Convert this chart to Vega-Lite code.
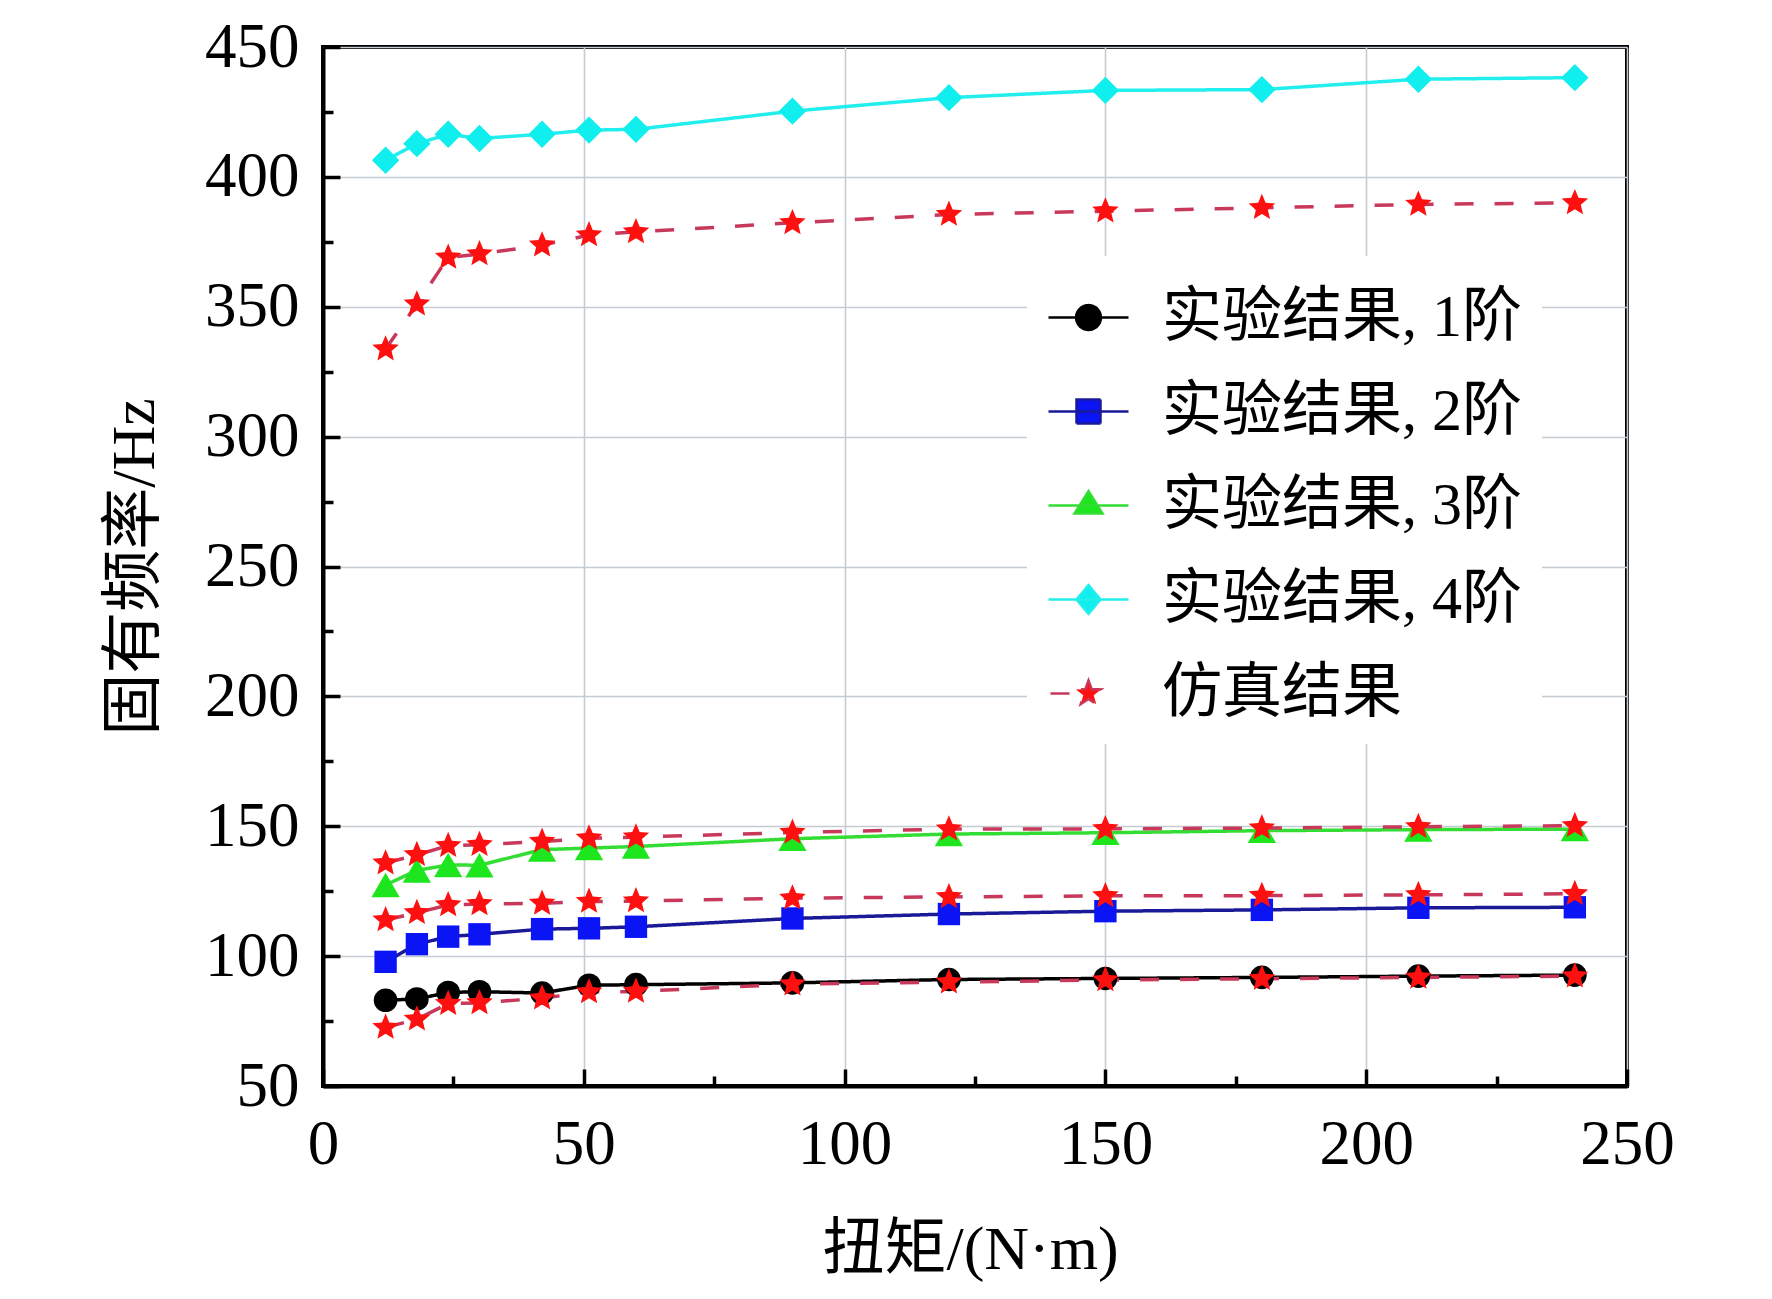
{
  "$schema": "https://vega.github.io/schema/vega-lite/v6.json",
  "autosize": "none",
  "padding": {"left": 323, "top": 47, "right": 145, "bottom": 213},
  "width": 1304,
  "height": 1039,
  "background": "white",
  "config": {
    "view": {"stroke": "black", "strokeWidth": 4},
    "font": "Liberation Serif, Noto Sans CJK SC",
    "axis": {
      "domainColor": "black",
      "domainWidth": 4,
      "tickColor": "black",
      "tickWidth": 3.5,
      "gridColor": "#c5cbd3",
      "gridWidth": 1.6,
      "labelFont": "Liberation Serif",
      "labelFontSize": 63,
      "labelColor": "black",
      "titleFont": "Liberation Serif, Noto Sans CJK SC",
      "titleFontSize": 62,
      "titleFontWeight": "normal",
      "titleColor": "black"
    }
  },
  "data": {
    "values": [
      {"x": 12, "y": 83, "s": "实验结果, 1阶", "g": "e1"},
      {"x": 18, "y": 83.5, "s": "实验结果, 1阶", "g": "e1"},
      {"x": 24, "y": 86, "s": "实验结果, 1阶", "g": "e1"},
      {"x": 30, "y": 86.3, "s": "实验结果, 1阶", "g": "e1"},
      {"x": 42, "y": 85.8, "s": "实验结果, 1阶", "g": "e1"},
      {"x": 51, "y": 88.8, "s": "实验结果, 1阶", "g": "e1"},
      {"x": 60, "y": 89, "s": "实验结果, 1阶", "g": "e1"},
      {"x": 90, "y": 89.7, "s": "实验结果, 1阶", "g": "e1"},
      {"x": 120, "y": 91, "s": "实验结果, 1阶", "g": "e1"},
      {"x": 150, "y": 91.4, "s": "实验结果, 1阶", "g": "e1"},
      {"x": 180, "y": 91.8, "s": "实验结果, 1阶", "g": "e1"},
      {"x": 210, "y": 92.3, "s": "实验结果, 1阶", "g": "e1"},
      {"x": 240, "y": 92.7, "s": "实验结果, 1阶", "g": "e1"},
      {"x": 12, "y": 97.8, "s": "实验结果, 2阶", "g": "e2"},
      {"x": 18, "y": 104.6, "s": "实验结果, 2阶", "g": "e2"},
      {"x": 24, "y": 107.5, "s": "实验结果, 2阶", "g": "e2"},
      {"x": 30, "y": 108.4, "s": "实验结果, 2阶", "g": "e2"},
      {"x": 42, "y": 110.4, "s": "实验结果, 2阶", "g": "e2"},
      {"x": 51, "y": 110.7, "s": "实验结果, 2阶", "g": "e2"},
      {"x": 60, "y": 111.3, "s": "实验结果, 2阶", "g": "e2"},
      {"x": 90, "y": 114.5, "s": "实验结果, 2阶", "g": "e2"},
      {"x": 120, "y": 116.2, "s": "实验结果, 2阶", "g": "e2"},
      {"x": 150, "y": 117.3, "s": "实验结果, 2阶", "g": "e2"},
      {"x": 180, "y": 117.8, "s": "实验结果, 2阶", "g": "e2"},
      {"x": 210, "y": 118.6, "s": "实验结果, 2阶", "g": "e2"},
      {"x": 240, "y": 118.8, "s": "实验结果, 2阶", "g": "e2"},
      {"x": 12, "y": 127.4, "s": "实验结果, 3阶", "g": "e3"},
      {"x": 18, "y": 133, "s": "实验结果, 3阶", "g": "e3"},
      {"x": 24, "y": 135.1, "s": "实验结果, 3阶", "g": "e3"},
      {"x": 30, "y": 135, "s": "实验结果, 3阶", "g": "e3"},
      {"x": 42, "y": 141, "s": "实验结果, 3阶", "g": "e3"},
      {"x": 51, "y": 141.6, "s": "实验结果, 3阶", "g": "e3"},
      {"x": 60, "y": 142.2, "s": "实验结果, 3阶", "g": "e3"},
      {"x": 90, "y": 145.2, "s": "实验结果, 3阶", "g": "e3"},
      {"x": 120, "y": 147, "s": "实验结果, 3阶", "g": "e3"},
      {"x": 150, "y": 147.5, "s": "实验结果, 3阶", "g": "e3"},
      {"x": 180, "y": 148.3, "s": "实验结果, 3阶", "g": "e3"},
      {"x": 210, "y": 148.7, "s": "实验结果, 3阶", "g": "e3"},
      {"x": 240, "y": 148.9, "s": "实验结果, 3阶", "g": "e3"},
      {"x": 12, "y": 406.4, "s": "实验结果, 4阶", "g": "e4"},
      {"x": 18, "y": 412.8, "s": "实验结果, 4阶", "g": "e4"},
      {"x": 24, "y": 416.4, "s": "实验结果, 4阶", "g": "e4"},
      {"x": 30, "y": 414.8, "s": "实验结果, 4阶", "g": "e4"},
      {"x": 42, "y": 416.4, "s": "实验结果, 4阶", "g": "e4"},
      {"x": 51, "y": 418, "s": "实验结果, 4阶", "g": "e4"},
      {"x": 60, "y": 418.3, "s": "实验结果, 4阶", "g": "e4"},
      {"x": 90, "y": 425.3, "s": "实验结果, 4阶", "g": "e4"},
      {"x": 120, "y": 430.5, "s": "实验结果, 4阶", "g": "e4"},
      {"x": 150, "y": 433.3, "s": "实验结果, 4阶", "g": "e4"},
      {"x": 180, "y": 433.6, "s": "实验结果, 4阶", "g": "e4"},
      {"x": 210, "y": 437.6, "s": "实验结果, 4阶", "g": "e4"},
      {"x": 240, "y": 438.2, "s": "实验结果, 4阶", "g": "e4"},
      {"x": 12, "y": 72.5, "s": "仿真结果", "g": "s1"},
      {"x": 18, "y": 75.7, "s": "仿真结果", "g": "s1"},
      {"x": 24, "y": 81.7, "s": "仿真结果", "g": "s1"},
      {"x": 30, "y": 82, "s": "仿真结果", "g": "s1"},
      {"x": 42, "y": 83.8, "s": "仿真结果", "g": "s1"},
      {"x": 51, "y": 86.2, "s": "仿真结果", "g": "s1"},
      {"x": 60, "y": 86.4, "s": "仿真结果", "g": "s1"},
      {"x": 90, "y": 89.2, "s": "仿真结果", "g": "s1"},
      {"x": 120, "y": 90, "s": "仿真结果", "g": "s1"},
      {"x": 150, "y": 90.8, "s": "仿真结果", "g": "s1"},
      {"x": 180, "y": 91.3, "s": "仿真结果", "g": "s1"},
      {"x": 210, "y": 91.8, "s": "仿真结果", "g": "s1"},
      {"x": 240, "y": 92.3, "s": "仿真结果", "g": "s1"},
      {"x": 12, "y": 113.9, "s": "仿真结果", "g": "s2"},
      {"x": 18, "y": 116.7, "s": "仿真结果", "g": "s2"},
      {"x": 24, "y": 119.7, "s": "仿真结果", "g": "s2"},
      {"x": 30, "y": 120.1, "s": "仿真结果", "g": "s2"},
      {"x": 42, "y": 120.3, "s": "仿真结果", "g": "s2"},
      {"x": 51, "y": 121, "s": "仿真结果", "g": "s2"},
      {"x": 60, "y": 121.2, "s": "仿真结果", "g": "s2"},
      {"x": 90, "y": 122.3, "s": "仿真结果", "g": "s2"},
      {"x": 120, "y": 122.8, "s": "仿真结果", "g": "s2"},
      {"x": 150, "y": 123.2, "s": "仿真结果", "g": "s2"},
      {"x": 180, "y": 123.3, "s": "仿真结果", "g": "s2"},
      {"x": 210, "y": 123.6, "s": "仿真结果", "g": "s2"},
      {"x": 240, "y": 124, "s": "仿真结果", "g": "s2"},
      {"x": 12, "y": 135.8, "s": "仿真结果", "g": "s3"},
      {"x": 18, "y": 139, "s": "仿真结果", "g": "s3"},
      {"x": 24, "y": 142.5, "s": "仿真结果", "g": "s3"},
      {"x": 30, "y": 142.9, "s": "仿真结果", "g": "s3"},
      {"x": 42, "y": 144.1, "s": "仿真结果", "g": "s3"},
      {"x": 51, "y": 145.4, "s": "仿真结果", "g": "s3"},
      {"x": 60, "y": 145.8, "s": "仿真结果", "g": "s3"},
      {"x": 90, "y": 147.6, "s": "仿真结果", "g": "s3"},
      {"x": 120, "y": 148.9, "s": "仿真结果", "g": "s3"},
      {"x": 150, "y": 149, "s": "仿真结果", "g": "s3"},
      {"x": 180, "y": 149.3, "s": "仿真结果", "g": "s3"},
      {"x": 210, "y": 149.8, "s": "仿真结果", "g": "s3"},
      {"x": 240, "y": 150.2, "s": "仿真结果", "g": "s3"},
      {"x": 12, "y": 333.7, "s": "仿真结果", "g": "s4"},
      {"x": 18, "y": 351, "s": "仿真结果", "g": "s4"},
      {"x": 24, "y": 369, "s": "仿真结果", "g": "s4"},
      {"x": 30, "y": 370.3, "s": "仿真结果", "g": "s4"},
      {"x": 42, "y": 373.7, "s": "仿真结果", "g": "s4"},
      {"x": 51, "y": 377.6, "s": "仿真结果", "g": "s4"},
      {"x": 60, "y": 378.8, "s": "仿真结果", "g": "s4"},
      {"x": 90, "y": 382.3, "s": "仿真结果", "g": "s4"},
      {"x": 120, "y": 385.5, "s": "仿真结果", "g": "s4"},
      {"x": 150, "y": 386.8, "s": "仿真结果", "g": "s4"},
      {"x": 180, "y": 388.1, "s": "仿真结果", "g": "s4"},
      {"x": 210, "y": 389.4, "s": "仿真结果", "g": "s4"},
      {"x": 240, "y": 390, "s": "仿真结果", "g": "s4"}
    ]
  },
  "encoding": {
    "x": {
      "field": "x", "type": "quantitative",
      "scale": {"domain": [0, 250], "nice": false, "zero": false},
      "axis": {
        "title": "扭矩/(N·m)",
        "values": [0, 25, 50, 75, 100, 125, 150, 175, 200, 225, 250],
        "labelExpr": "datum.value % 50 === 0 ? datum.label : ''",
        "labelBaseline": "top",
        "labelPadding": 44,
        "labelFlush": false,
        "labelOverlap": false,
        "tickSize": {"condition": {"test": "datum.value % 50 === 0", "value": -17}, "value": -10},
        "gridOpacity": {"condition": {"test": "datum.value % 50 === 0", "value": 1}, "value": 0},
        "titleX": 647,
        "titleY": 163,
        "titleBaseline": "middle",
        "titleAlign": "center"
      }
    },
    "y": {
      "field": "y", "type": "quantitative",
      "scale": {"domain": [50, 450], "nice": false, "zero": false},
      "axis": {
        "title": "固有频率/Hz",
        "values": [50, 75, 100, 125, 150, 175, 200, 225, 250, 275, 300, 325, 350, 375, 400, 425, 450],
        "labelExpr": "datum.value % 50 === 0 ? datum.label : ''",
        "labelPadding": 41,
        "labelFlush": false,
        "labelOverlap": false,
        "labelBaseline": "middle",
        "tickSize": {"condition": {"test": "datum.value % 50 === 0", "value": -17}, "value": -10},
        "gridOpacity": {"condition": {"test": "datum.value % 50 === 0", "value": 1}, "value": 0},
        "titleX": -189,
        "titleY": 519.5,
        "titleAngle": -90,
        "titleBaseline": "middle",
        "titleAlign": "center"
      }
    }
  },
  "layer": [
    {
      "mark": {"type": "line", "strokeWidth": 3.5},
      "encoding": {
        "detail": {"field": "g"},
        "strokeDash": {
          "field": "s", "type": "nominal", "legend": null,
          "scale": {
            "domain": ["实验结果, 1阶", "实验结果, 2阶", "实验结果, 3阶", "实验结果, 4阶", "仿真结果"],
            "range": [[1, 0], [1, 0], [1, 0], [1, 0], [19, 21]]
          }
        },
        "color": {
          "field": "s", "type": "nominal",
          "scale": {
            "domain": ["实验结果, 1阶", "实验结果, 2阶", "实验结果, 3阶", "实验结果, 4阶", "仿真结果"],
            "range": ["#000000", "#1a1a99", "#33dd33", "#22eeee", "#c8385a"]
          },
          "legend": {
            "title": null,
            "orient": "none",
            "legendX": 704,
            "legendY": 209,
            "padding": 20,
            "fillColor": "white",
            "symbolType": "M-1,0H1",
            "symbolSize": 6400,
            "symbolStrokeWidth": 2.5,
            "labelFont": "Liberation Serif, Noto Sans CJK SC",
            "labelFontSize": 60,
            "labelColor": "black",
            "labelOffset": 32,
            "labelLimit": 0,
            "rowPadding": 22,
            "encode": {
              "symbols": {
                "update": {
                  "shape": {"signal": "datum.value === '实验结果, 1阶' ? 'M-1,0H1M0.31,0A0.31,0.31 0 1,1 -0.31,0A0.31,0.31 0 1,1 0.31,0Z' : datum.value === '实验结果, 2阶' ? 'M-1,0H1M-0.3,-0.3H0.3V0.3H-0.3Z' : datum.value === '实验结果, 3阶' ? 'M-1,0H1M0,-0.36L0.35,0.2H-0.35Z' : datum.value === '实验结果, 4阶' ? 'M-1,0H1M0,-0.36L0.3,0L0,0.36L-0.3,0Z' : 'M-0.95,0H-0.35M0,-0.33L0.08,-0.11L0.314,-0.102L0.13,0.042L0.194,0.267L0,0.137L-0.194,0.267L-0.13,0.042L-0.314,-0.102L-0.08,-0.11Z'"},
                  "fill": {"signal": "datum.value === '实验结果, 1阶' ? '#000000' : datum.value === '实验结果, 2阶' ? '#0a14f5' : datum.value === '实验结果, 3阶' ? '#1ee61e' : datum.value === '实验结果, 4阶' ? '#11eeee' : '#ff1010'"},
                  "fillOpacity": {"value": 1},
                  "strokeDash": {"value": [1, 0]}
                }
              }
            }
          }
        }
      }
    },
    {
      "mark": {"type": "point", "filled": true, "opacity": 1, "strokeWidth": 0},
      "encoding": {
        "fill": {
          "field": "g", "type": "nominal", "legend": null,
          "scale": {
            "domain": ["e1", "e2", "e3", "e4", "s1", "s2", "s3", "s4"],
            "range": ["#000000", "#0a14f5", "#1ee61e", "#11eeee", "#ff1010", "#ff1010", "#ff1010", "#ff1010"]
          }
        },
        "shape": {
          "field": "g", "type": "nominal", "legend": null,
          "scale": {
            "domain": ["e1", "e2", "e3", "e4", "s1", "s2", "s3", "s4"],
            "range": ["circle", "square", "triangle-up", "diamond",
              "M0,-1L0.265,-0.364L0.951,-0.309L0.428,0.139L0.588,0.809L0,0.45L-0.588,0.809L-0.428,0.139L-0.951,-0.309L-0.265,-0.364Z",
              "M0,-1L0.265,-0.364L0.951,-0.309L0.428,0.139L0.588,0.809L0,0.45L-0.588,0.809L-0.428,0.139L-0.951,-0.309L-0.265,-0.364Z",
              "M0,-1L0.265,-0.364L0.951,-0.309L0.428,0.139L0.588,0.809L0,0.45L-0.588,0.809L-0.428,0.139L-0.951,-0.309L-0.265,-0.364Z",
              "M0,-1L0.265,-0.364L0.951,-0.309L0.428,0.139L0.588,0.809L0,0.45L-0.588,0.809L-0.428,0.139L-0.951,-0.309L-0.265,-0.364Z"]
          }
        },
        "size": {
          "field": "g", "type": "nominal", "legend": null,
          "scale": {
            "type": "ordinal",
            "domain": ["e1", "e2", "e3", "e4", "s1", "s2", "s3", "s4"],
            "range": [560, 500, 800, 750, 780, 780, 780, 780]
          }
        }
      }
    }
  ]
}
